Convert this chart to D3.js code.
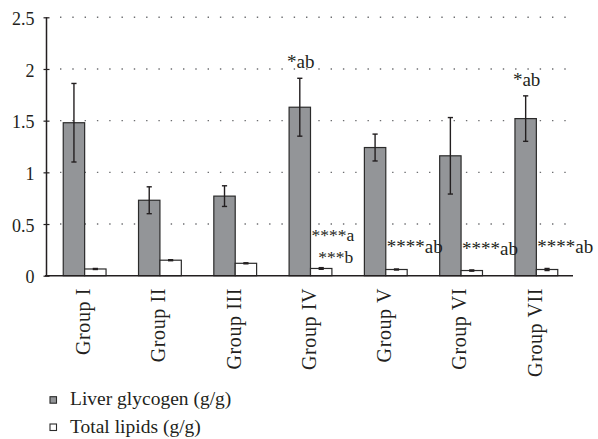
<!DOCTYPE html>
<html>
<head>
<meta charset="utf-8">
<script src="https://cdn.jsdelivr.net/npm/d3@7"></script>
<style>
  html, body { margin: 0; padding: 0; background: #fff; }
  svg { display: block; }
  text { font-family: "Liberation Serif", "Times New Roman", serif; fill: #231f20; }
</style>
</head>
<body>
<svg id="chart" width="598" height="439"></svg>
<script>
// Groups and the two measured series (mean and error)
const groups = ["Group I", "Group II", "Group III", "Group IV", "Group V", "Group VI", "Group VII"];
const seriesNames = ["Liver glycogen (g/g)", "Total lipids (g/g)"];
const glycogen = [1.48, 0.73, 0.77, 1.63, 1.24, 1.16, 1.52];
const glycogenErr = [0.38, 0.13, 0.10, 0.28, 0.13, 0.37, 0.22];
const lipids = [0.065, 0.15, 0.12, 0.07, 0.06, 0.05, 0.06];
const lipidsErr = [0.005, 0.005, 0.005, 0.008, 0.005, 0.006, 0.01];
const yTicks = [0, 0.5, 1, 1.5, 2, 2.5];
// Significance marks over each group
const glycogenNotes = ["", "", "", "*ab", "", "", "*ab"];
const lipidNotes = [[], [], [], ["****a", "***b"], ["****ab"], ["****ab"], ["****ab"]];

const svg = d3.select("#chart");
const ink = "#231f20";
const fills = ["#939598", "#ffffff"];

const x0 = d3.scaleBand().domain(groups).range([47, 574]).padding(0);
const x1 = d3.scaleBand().domain(seriesNames).range([0, x0.bandwidth()])
  .paddingInner(0).paddingOuter(0.759);
const y = d3.scaleLinear().domain([0, 2.5]).range([275.7, 17.3]);

const rows = groups.map((g, i) => ({
  group: g,
  values: [
    { s: seriesNames[0], v: glycogen[i], e: glycogenErr[i] },
    { s: seriesNames[1], v: lipids[i], e: lipidsErr[i] }
  ]
}));

// dotted gridlines
svg.append("g").selectAll("line")
  .data(yTicks.filter(t => t > 0))
  .join("line")
  .attr("x1", 60).attr("x2", 566)
  .attr("y1", d => y(d)).attr("y2", d => y(d))
  .attr("stroke", "#6d6e71").attr("stroke-width", 1.4)
  .attr("stroke-dasharray", "1.4 10.9");

// bars
const gGroups = svg.append("g").selectAll("g")
  .data(rows).join("g")
  .attr("transform", d => `translate(${x0(d.group)},0)`);

gGroups.selectAll("rect")
  .data(d => d.values).join("rect")
  .attr("x", d => x1(d.s))
  .attr("width", x1.bandwidth())
  .attr("y", d => y(d.v))
  .attr("height", d => y(0) - y(d.v))
  .attr("fill", (d, i) => fills[i])
  .attr("stroke", "#2b2b2b").attr("stroke-width", 1.2);

// error bars
const eb = gGroups.selectAll("g.err")
  .data(d => d.values).join("g").attr("class", "err")
  .attr("transform", d => `translate(${x1(d.s) + x1.bandwidth() / 2},0)`);
eb.append("line")
  .attr("y1", d => y(d.v + d.e)).attr("y2", d => y(d.v - d.e))
  .attr("stroke", ink).attr("stroke-width", 1.4);
eb.selectAll("line.cap")
  .data(d => [d.v + d.e, d.v - d.e]).join("line").attr("class", "cap")
  .attr("x1", -2.6).attr("x2", 2.6)
  .attr("y1", d => y(d)).attr("y2", d => y(d))
  .attr("stroke", ink).attr("stroke-width", 1.4);

// y axis
const yAxis = d3.axisLeft(y).tickValues(yTicks).tickSize(3).tickPadding(9)
  .tickFormat(d3.format("~g"));
const ya = svg.append("g").attr("transform", "translate(46.5,0)").call(yAxis);
ya.select(".domain").attr("stroke", ink).attr("stroke-width", 1.5).attr("d", `M0,${y(2.5)}V${y(0)}`);
ya.selectAll(".tick line").attr("x1", -3).attr("x2", 3).attr("stroke", ink).attr("stroke-width", 1.2);
ya.selectAll(".tick text")
  .style("font-size", "18px").attr("dy", "0.4em").attr("fill", ink);

// x axis baseline
svg.append("line")
  .attr("x1", 45).attr("x2", 573)
  .attr("y1", y(0)).attr("y2", y(0))
  .attr("stroke", ink).attr("stroke-width", 1.5);

// rotated group labels
svg.append("g").selectAll("text")
  .data(groups).join("text")
  .attr("transform", d => `translate(${x0(d) + x0.bandwidth() / 2 + 1},288) rotate(-90)`)
  .attr("text-anchor", "end")
  .attr("dy", "0.22em")
  .style("font-size", "20px")
  .style("letter-spacing", "0.6px")
  .text(d => d);

// significance marks
svg.append("g").selectAll("text")
  .data(groups.map((g, i) => ({ g, t: glycogenNotes[i], top: glycogen[i] + glycogenErr[i] })).filter(d => d.t))
  .join("text")
  .attr("x", d => x0(d.g) + x1(seriesNames[0]) + x1.bandwidth() / 2 + 1)
  .attr("y", d => y(d.top) - 10)
  .attr("text-anchor", "middle")
  .style("font-size", "19px")
  .text(d => d.t);

groups.forEach((g, i) => {
  const lines = lipidNotes[i];
  if (!lines.length) return;
  const x = x0(g) + x1(seriesNames[1]) + 1;
  const base = y(lipids[i]);
  const twoLine = lines.length > 1;
  const ys = twoLine ? [base - 27, base - 5.5] : [base - 16];
  const texts = lines.map((t, k) => svg.append("text")
    .attr("x", x).attr("y", ys[k])
    .style("font-size", twoLine ? "17.5px" : "19px").text(t));
  if (twoLine) {
    const w0 = texts[0].node().getComputedTextLength();
    texts.slice(1).forEach(tx => {
      tx.attr("text-anchor", "end").attr("x", x + w0 - 1);
    });
  }
});

// legend
const legend = svg.append("g").selectAll("g")
  .data(seriesNames).join("g")
  .attr("transform", (d, i) => `translate(50,${396.7 + i * 27.3})`);
legend.append("rect")
  .attr("width", 6.5).attr("height", 6.5)
  .attr("fill", (d, i) => fills[i])
  .attr("stroke", "#2b2b2b").attr("stroke-width", 1.1);
legend.append("text")
  .attr("x", 20).attr("y", 8.5)
  .style("font-size", "19.5px")
  .text(d => d);
</script>
</body>
</html>
